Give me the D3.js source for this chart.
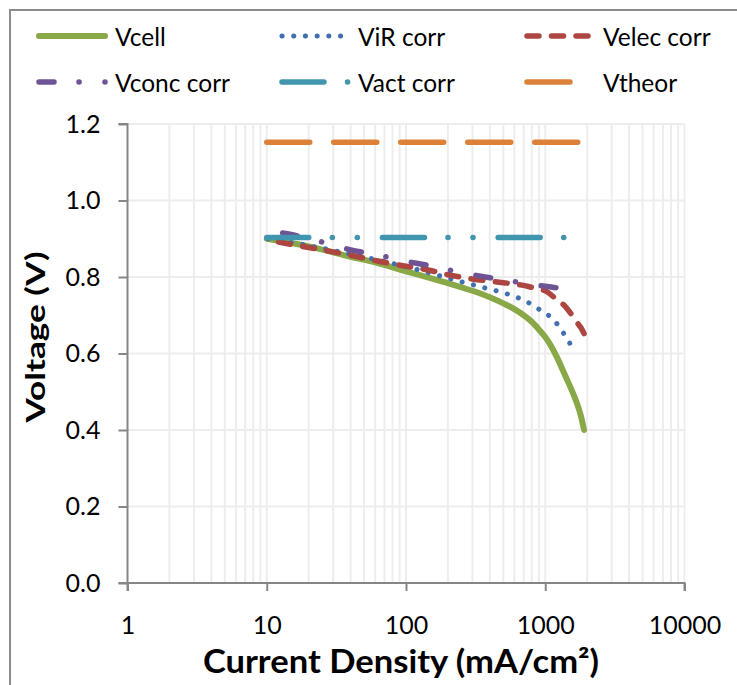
<!DOCTYPE html>
<html>
<head>
<meta charset="utf-8">
<script src="https://cdn.jsdelivr.net/npm/d3@7"></script>
<style>
  html, body { margin: 0; padding: 0; background: #fff; }
  svg { display: block; font-family: "Lato", "Open Sans", sans-serif; }
</style>
</head>
<body>
<svg id="chart" width="737" height="685"></svg>
<script>
// Current density (mA/cm²) and voltage (V) for each polarisation curve
const vcellX = [10, 20, 40, 60, 100, 150, 200, 300, 400, 500, 600, 700, 800, 900, 1000, 1200, 1400, 1600, 1700, 1800, 1900];
const vcellY = [0.900, 0.880, 0.853, 0.838, 0.815, 0.797, 0.784, 0.764, 0.747, 0.731, 0.716, 0.700, 0.683, 0.663, 0.643, 0.594, 0.540, 0.492, 0.467, 0.438, 0.400];

const virX = [10, 20, 40, 60, 100, 150, 200, 300, 400, 500, 600, 700, 800, 900, 1000, 1100, 1200, 1300, 1400, 1500];
const virY = [0.900, 0.882, 0.860, 0.846, 0.827, 0.810, 0.797, 0.780, 0.768, 0.759, 0.749, 0.740, 0.728, 0.716, 0.705, 0.695, 0.680, 0.662, 0.645, 0.627];

const velecX = [10, 20, 40, 60, 100, 150, 200, 300, 400, 500, 600, 700, 800, 900, 1000, 1200, 1400, 1600, 1700, 1800, 1900];
const velecY = [0.897, 0.877, 0.857, 0.843, 0.828, 0.817, 0.806, 0.795, 0.789, 0.785, 0.782, 0.778, 0.773, 0.769, 0.764, 0.742, 0.722, 0.694, 0.680, 0.668, 0.652];

const vconcX = [13, 20, 30, 40, 60, 100, 150, 200, 300, 400, 500, 600, 700, 800, 900, 1000, 1200, 1400, 1500];
const vconcY = [0.915, 0.901, 0.883, 0.871, 0.859, 0.841, 0.829, 0.819, 0.806, 0.798, 0.793, 0.788, 0.783, 0.780, 0.778, 0.776, 0.772, 0.768, 0.766];

const vactX = [10, 100, 1000, 1900];
const vactY = [0.903, 0.903, 0.903, 0.903];

const vtheorX = [10, 100, 1000, 1900];
const vtheorY = [1.152, 1.152, 1.152, 1.152];

const seriesNames = ["Vcell", "ViR corr", "Velec corr", "Vconc corr", "Vact corr", "Vtheor"];
const yTicks = [0, 0.2, 0.4, 0.6, 0.8, 1.0, 1.2];
const xTicks = [1, 10, 100, 1000, 10000];

// Line styles per series; endAt = pattern position to land on the last point
const styles = [
  { color: "#89a847", width: 6,   dash: null },
  { color: "#4070b0", width: 5,   dash: [0.1, 11.6], endAt: 0.05 },
  { color: "#ad4541", width: 5.5, dash: [12, 12.5], endAt: 11.5 },
  { color: "#6f5495", width: 5.5, dash: [15, 25, 0.1, 25.9] },
  { color: "#3f96ae", width: 5.5, dash: [42, 23.5, 0.1, 24.9, 0.1, 25.1] },
  { color: "#de8138", width: 5.5, dash: [43, 24] }
];

const seriesData = [
  [vcellX, vcellY], [virX, virY], [velecX, velecY],
  [vconcX, vconcY], [vactX, vactY], [vtheorX, vtheorY]
].map(([xs, ys]) => xs.map((xv, i) => ({ x: xv, y: ys[i] })));

const svg = d3.select("#chart");

// Outer chart border
svg.append("rect")
  .attr("x", 10).attr("y", 10)
  .attr("width", 760).attr("height", 700)
  .attr("fill", "#fff")
  .attr("stroke", "#8c8c8c").attr("stroke-width", 2);

const plotLeft = 127.5, plotRight = 684.5, plotTop = 124, plotBottom = 583;
const x = d3.scaleLog().domain([1, 10000]).range([plotLeft, plotRight]);
const y = d3.scaleLinear().domain([0, 1.2]).range([plotBottom, plotTop]);

// Gridlines
const grid = svg.append("g").attr("stroke", "#ededed").attr("stroke-width", 2);
const minor = [];
for (let k = 0; k < 4; k++) {
  for (let m = 1; m <= 10; m++) {
    const v = m * Math.pow(10, k);
    if (v > 1) minor.push(v);
  }
}
grid.selectAll("line.v").data(Array.from(new Set(minor))).join("line")
  .attr("class", "v")
  .attr("x1", d => x(d)).attr("x2", d => x(d))
  .attr("y1", plotTop).attr("y2", plotBottom);
grid.selectAll("line.h").data(yTicks.slice(1)).join("line")
  .attr("class", "h")
  .attr("x1", plotLeft).attr("x2", plotRight)
  .attr("y1", d => y(d)).attr("y2", d => y(d));

// Axes
const yAxis = svg.append("g")
  .attr("transform", `translate(${plotLeft},0)`)
  .call(d3.axisLeft(y).tickValues(yTicks).tickFormat(d3.format(".1f")).tickSize(9).tickPadding(18));
const xAxis = svg.append("g")
  .attr("transform", `translate(0,${plotBottom})`)
  .call(d3.axisBottom(x).tickValues(xTicks).tickFormat(d3.format("d")).tickSize(8).tickPadding(25));
[yAxis, xAxis].forEach(a => {
  a.select(".domain").attr("stroke", "#868686").attr("stroke-width", 2);
  a.selectAll(".tick line").attr("stroke", "#868686").attr("stroke-width", 2);
  a.selectAll(".tick text").attr("fill", "#000").style("font-size", "25px").style("font-family", "Lato");
});
yAxis.select(".domain").attr("d", `M-9,${plotBottom}H0V${plotTop}H-9`);
xAxis.select(".domain").attr("d", `M${plotLeft},8V0H${plotRight}V8`);

// Axis titles
svg.append("text")
  .attr("transform", "translate(45,337) rotate(-90) scale(1.35,1)")
  .attr("text-anchor", "middle")
  .style("font-size", "26px").style("font-weight", "bold")
  .text("Voltage (V)");
svg.append("text")
  .attr("transform", "translate(401,673) scale(1.08,1)")
  .attr("text-anchor", "middle")
  .style("font-size", "32px").style("font-weight", "bold")
  .text("Current Density (mA/cm²)");

// Series lines
const line = d3.line().x(d => x(d.x)).y(d => y(d.y)).curve(d3.curveMonotoneX);
svg.append("g").selectAll("path").data(seriesData).join("path")
  .attr("d", line)
  .attr("fill", "none")
  .attr("stroke", (d, i) => styles[i].color)
  .attr("stroke-width", (d, i) => styles[i].width)
  .attr("stroke-linecap", "round")
  .attr("stroke-linejoin", "round")
  .attr("stroke-dasharray", (d, i) => styles[i].dash ? styles[i].dash.join(" ") : null)
  .each(function (d, i) {
    const s = styles[i];
    if (s.endAt === undefined) return;
    // shift the dash phase so the pattern shows a mark at the curve's end
    const period = d3.sum(s.dash);
    const len = this.getTotalLength();
    const off = ((s.endAt - len) % period + period) % period;
    d3.select(this).attr("stroke-dashoffset", off);
  });

// Legend: two rows of three entries
const legendCols = [39, 282, 527];
const legendTextX = [115, 358, 603];
const legendRows = [36, 82];
const legend = svg.append("g");
seriesNames.forEach((name, i) => {
  const col = i % 3, row = Math.floor(i / 3);
  const g = legend.append("g");
  g.append("path")
    .attr("d", `M${legendCols[col]},${legendRows[row]}h66`)
    .attr("fill", "none")
    .attr("stroke", styles[i].color)
    .attr("stroke-width", styles[i].width)
    .attr("stroke-linecap", "round")
    .attr("stroke-dasharray", styles[i].dash ? styles[i].dash.join(" ") : null);
  g.append("text")
    .attr("x", legendTextX[col]).attr("y", legendRows[row] + 10)
    .style("font-size", "24.5px")
    .text(name);
});
</script>
</body>
</html>
